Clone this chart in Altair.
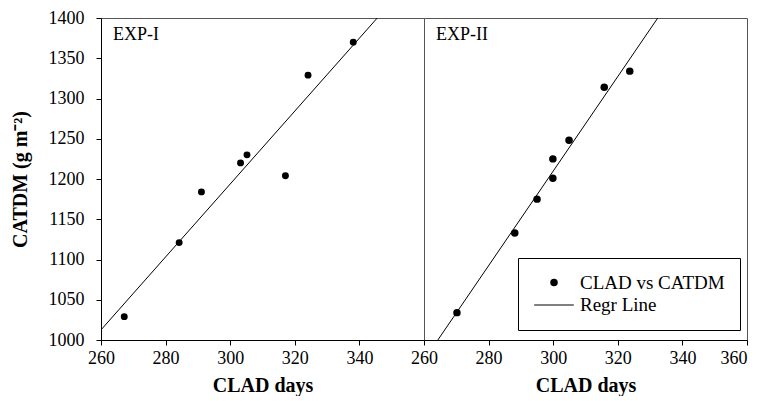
import altair as alt
import pandas as pd

# ---- data ----
exp1_clad = [267.2, 284.2, 291.1, 303.2, 305.2, 317.1, 324.1, 338.1]
exp1_catdm = [1029, 1121, 1184, 1220, 1230, 1204, 1329, 1370]
exp2_clad = [270.2, 288.1, 295.0, 299.9, 299.9, 304.9, 315.8, 323.7]
exp2_catdm = [1034, 1133, 1175, 1201, 1225, 1248, 1314, 1334]
panel_labels = ["EXP-I", "EXP-II"]
series_names = ["CLAD vs CATDM", "Regr Line"]
x_ticks_left = [260, 280, 300, 320, 340]
x_ticks_right = [260, 280, 300, 320, 340, 360]
y_ticks = [1000, 1050, 1100, 1150, 1200, 1250, 1300, 1350, 1400]
x_domain = [260, 360]
y_domain = [1000, 1400]

FONT = "Liberation Serif"
LINE_SYMBOL = "M-1.8,-0.05L1.8,-0.05L1.8,0.05L-1.8,0.05Z"


def panel(clad, catdm, label, left):
    df = pd.DataFrame({"CLAD": clad, "CATDM": catdm, "series": series_names[0]})
    xs = alt.Scale(domain=x_domain, nice=False, zero=False)
    ys = alt.Scale(domain=y_domain, nice=False, zero=False)
    if left:
        xaxis = alt.Axis(values=x_ticks_left, title="CLAD days", format="d")
        yaxis = alt.Axis(values=y_ticks, title="CATDM (g m⁻²)", format="d")
    else:
        xaxis = alt.Axis(
            values=x_ticks_right, title="CLAD days", format="d",
            labelAlign={"condition": {"test": "datum.value === 360", "value": "right"},
                        "value": "center"},
        )
        yaxis = None
    X = alt.X("CLAD:Q", scale=xs, axis=xaxis)
    Y = alt.Y("CATDM:Q", scale=ys, axis=yaxis)
    base = alt.Chart(df)
    if left:
        pts = base.mark_point(filled=True, color="black", size=48,
                              opacity=1).encode(x=X, y=Y)
    else:
        leg = alt.Legend(orient="none", legendX=417, legendY=240, title=None,
                         strokeColor="black", fillColor="white", padding=15,
                         labelFont=FONT, labelFontSize=19, labelColor="black",
                         rowPadding=0, labelOffset=14, symbolOffset=9,
                         symbolFillColor="black", symbolOpacity=1)
        pts = base.mark_point(filled=True, color="black", opacity=1).encode(
            x=X, y=Y,
            shape=alt.Shape("series:N", scale=alt.Scale(domain=series_names,
                            range=["circle", LINE_SYMBOL]), legend=leg),
            size=alt.Size("series:N", scale=alt.Scale(domain=series_names,
                          range=[56, 484]), legend=leg),
        )
    line = base.transform_regression("CLAD", "CATDM", extent=x_domain).mark_line(
        clip=True, color="black", strokeWidth=1).encode(x=X, y=Y)
    txt = alt.Chart(pd.DataFrame({"label": [label]})).mark_text(
        align="left", baseline="alphabetic", font=FONT, fontSize=18, color="black"
    ).encode(x=alt.value(12), y=alt.value(22), text="label:N")
    return alt.layer(line, pts, txt).properties(width=323, height=322)


left_panel = panel(exp1_clad, exp1_catdm, panel_labels[0], True)
right_panel = panel(exp2_clad, exp2_catdm, panel_labels[1], False)

chart = alt.hconcat(left_panel, right_panel, spacing=0, bounds="flush").properties(
    padding={"left": 1, "top": 0, "right": 0, "bottom": 0}
).configure_view(stroke="#555555", strokeWidth=1).configure_axis(
    grid=False,
    labelFont=FONT, labelFontSize=18, labelColor="black",
    titleFont=FONT, titleFontSize=20, titleFontWeight="bold", titleColor="black",
    domainColor="black", tickColor="black", tickSize=5,
).configure_axisY(labelPadding=12, titlePadding=18).configure_axisX(
    labelPadding=4, titlePadding=8, labelFlush=False
)

chart.save("out.html", embed_options={"renderer": "svg", "actions": False})
